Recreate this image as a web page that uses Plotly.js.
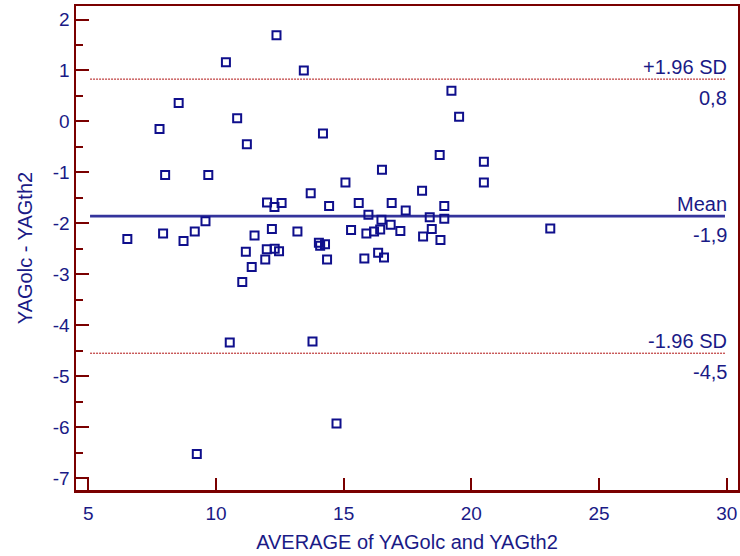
<!DOCTYPE html>
<html>
<head>
<meta charset="utf-8">
<script src="https://cdn.plot.ly/plotly-3.0.1.min.js"></script>
<style>html,body{margin:0;padding:0;background:#fff;}#chart{width:740px;height:556px;}</style>
</head>
<body>
<div id="chart"></div>
<script>
// Average of the two methods (x) and their difference (y)
const averages = [12.37,10.39,13.44,19.22,19.52,8.54,10.83,7.79,11.21,14.19,
  18.76,20.49,20.49,8.01,9.70,16.50,15.07,18.07,13.71,12.00,
  12.29,12.57,14.43,15.59,16.88,18.94,17.43,15.97,18.37,18.94,
  16.48,9.59,6.53,7.93,9.17,8.73,12.19,11.51,11.17,11.99,
  12.30,12.47,11.93,11.40,11.03,13.19,15.29,16.43,16.84,15.89,
  16.19,17.22,18.45,18.11,18.79,14.03,14.08,14.27,14.35,15.81,
  16.35,16.58,23.09,10.54,13.78,14.72,9.25];
const differences = [1.69,1.16,1.00,0.60,0.09,0.36,0.06,-0.15,-0.45,-0.24,
  -0.66,-0.79,-1.20,-1.05,-1.05,-0.95,-1.20,-1.36,-1.41,-1.59,
  -1.68,-1.60,-1.66,-1.60,-1.60,-1.66,-1.75,-1.83,-1.88,-1.91,
  -1.93,-1.96,-2.31,-2.20,-2.16,-2.35,-2.11,-2.24,-2.56,-2.51,
  -2.50,-2.55,-2.71,-2.86,-3.15,-2.16,-2.13,-2.12,-2.03,-2.20,
  -2.16,-2.15,-2.11,-2.26,-2.33,-2.38,-2.44,-2.41,-2.71,-2.69,
  -2.58,-2.67,-2.10,-4.34,-4.32,-5.93,-6.53];

// Reference lines: mean difference and limits of agreement
const refNames  = ["+1.96 SD", "Mean", "-1.96 SD"];
const refValues = [0.83, -1.86, -4.55];
const refLabels = ["0,8", "-1,9", "-4,5"];

// Axis ticks
const xTicks = [5, 10, 15, 20, 25, 30];
const xTickText = ["5", "10", "15", "20", "25", "30"];
const yTicks = [2, 1, 0, -1, -2, -3, -4, -5, -6, -7];
const yTickText = ["2", "1", "0", "-1", "-2", "-3", "-4", "-5", "-6", "-7"];

const navy = "#1a1a86";
const frame = "#7a0000";
const font = "Liberation Sans, Arial, Helvetica, sans-serif";

const lineStart = xTicks[0] + 0.07;
const lineEnd = xTicks[xTicks.length - 1] - 0.07;

const traces = [];
refValues.forEach((v, i) => {
  const isMean = refNames[i] === "Mean";
  traces.push({
    type: "scatter", mode: "lines",
    x: [lineStart, lineEnd], y: [v, v],
    line: isMean ? {color: "#34349c", width: 2.6} : {color: "#b01010", width: 1, dash: "2px,1px"},
    hoverinfo: "skip", showlegend: false
  });
});
traces.push({
  type: "scatter", mode: "markers",
  x: averages, y: differences,
  marker: {symbol: "square-open", size: 8, color: "#0f0f8c", line: {width: 2, color: "#0f0f8c"}},
  showlegend: false
});

const annotations = [];
refValues.forEach((v, i) => {
  annotations.push({
    x: lineEnd, y: v, xref: "x", yref: "y", xanchor: "right", yanchor: "middle",
    xshift: 4, yshift: 12, text: refNames[i], showarrow: false,
    font: {family: font, size: 20, color: navy}
  });
  annotations.push({
    x: lineEnd, y: v, xref: "x", yref: "y", xanchor: "right", yanchor: "middle",
    xshift: 4, yshift: -19, text: refLabels[i], showarrow: false,
    font: {family: font, size: 20, color: navy}
  });
});

const layout = {
  width: 740, height: 556,
  margin: {l: 76, r: 2, t: 6, b: 66},
  paper_bgcolor: "#fff", plot_bgcolor: "#fff",
  font: {family: font, size: 19, color: navy},
  showlegend: false,
  xaxis: {
    range: [4.52, 30.44],
    tickmode: "array", tickvals: xTicks, ticktext: xTickText,
    ticks: "inside", ticklen: 12, tickwidth: 2, tickcolor: frame,
    ticklabelstandoff: 5,
    showline: true, mirror: true, linecolor: frame, linewidth: 2.5,
    showgrid: false, zeroline: false,
    tickfont: {family: font, size: 19, color: navy},
    title: {text: "AVERAGE of YAGolc and YAGth2", font: {family: font, size: 20, color: navy}, standoff: 12}
  },
  yaxis: {
    range: [-7.235, 2.265],
    tickmode: "array", tickvals: yTicks, ticktext: yTickText,
    ticks: "inside", ticklen: 13, tickwidth: 2, tickcolor: frame,
    minor: {dtick: 0.5, ticks: "inside", ticklen: 7, tickwidth: 2, tickcolor: frame, showgrid: false},
    showline: true, mirror: true, linecolor: frame, linewidth: 2.5,
    showgrid: false, zeroline: false,
    tickfont: {family: font, size: 19, color: navy},
    title: {text: "YAGolc - YAGth2", font: {family: font, size: 20, color: navy}, standoff: 15}
  },
  annotations: annotations
};

Plotly.newPlot("chart", traces, layout, {displayModeBar: false, staticPlot: true});
</script>
</body>
</html>
